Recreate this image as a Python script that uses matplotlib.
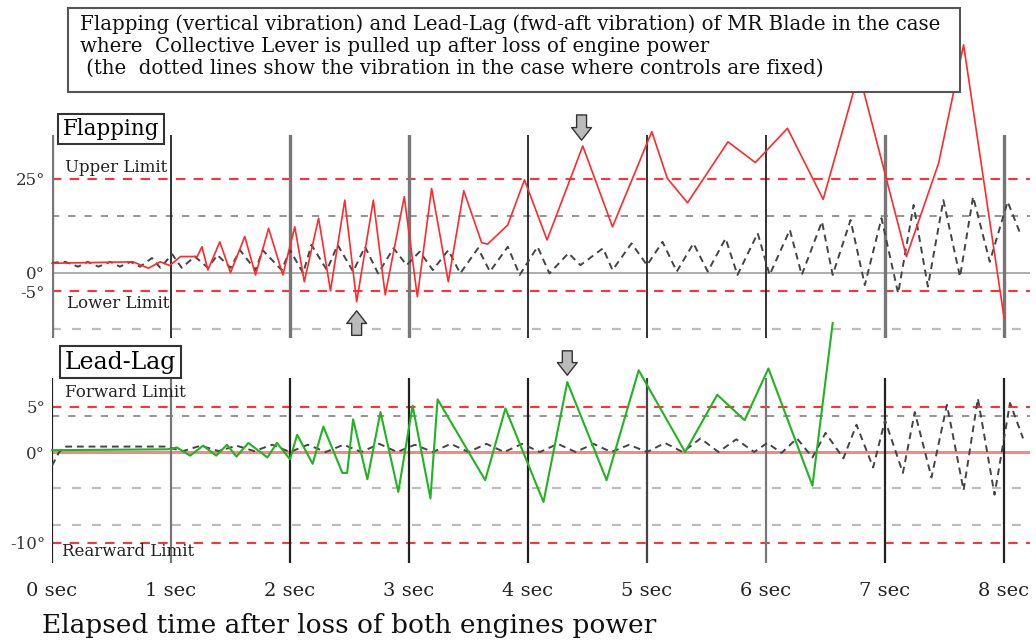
import matplotlib
matplotlib.use("Agg")
import matplotlib.pyplot as plt
from matplotlib.patches import Rectangle, FancyArrowPatch

plt.rcParams['font.family'] = ['DejaVu Serif']

# elapsed time (sec) and flapping angle (deg), collective pulled up
flap_t = [0.00, 0.68, 0.81, 0.91, 0.99, 1.08, 1.22, 1.26, 1.31, 1.41, 1.50, 1.62,
          1.71, 1.82, 1.94, 2.04, 2.12, 2.24, 2.34, 2.46, 2.56, 2.70, 2.80, 2.96,
          3.07, 3.19, 3.33, 3.46, 3.61, 3.66, 3.83, 3.97, 4.16, 4.46, 4.71, 5.04,
          5.17, 5.34, 5.68, 5.91, 6.18, 6.48, 6.78, 7.18, 7.45, 7.66, 8.00]
flap_deg = [2.5, 2.9, 1.2, 2.9, 1.9, 4.3, 4.3, 6.9, 0.7, 8.2, 0.0, 9.6,
            -0.6, 11.8, -0.6, 12.2, -2.4, 14.5, -4.8, 19.3, -7.7, 19.3, -5.9, 20.2,
            -6.4, 22.4, -2.4, 21.8, 8.0, 7.6, 12.7, 24.7, 8.7, 33.7, 12.2, 37.5,
            25.1, 18.6, 34.8, 29.3, 38.4, 19.5, 53.2, 4.3, 29.1, 60.6, -12.0]

# flapping with controls fixed
flap_fix_t = [0.00, 0.11, 0.22, 0.30, 0.39, 0.49, 0.57, 0.66, 0.74, 0.84, 0.91, 1.01,
              1.09, 1.20, 1.31, 1.39, 1.50, 1.58, 1.71, 1.77, 1.93, 2.00, 2.11, 2.18,
              2.31, 2.40, 2.53, 2.63, 2.74, 2.87, 2.98, 3.09, 3.20, 3.33, 3.43, 3.58,
              3.68, 3.83, 3.93, 4.08, 4.18, 4.34, 4.44, 4.63, 4.71, 4.87, 5.00, 5.13,
              5.25, 5.39, 5.51, 5.66, 5.76, 5.93, 6.03, 6.20, 6.30, 6.47, 6.56, 6.71,
              6.83, 6.97, 7.11, 7.24, 7.36, 7.49, 7.63, 7.74, 7.88, 8.03, 8.13]
flap_fix_deg = [2.6, 2.9, 1.6, 2.9, 1.6, 2.9, 1.6, 2.9, 1.6, 3.9, 1.3, 4.9,
                1.3, 4.3, 1.3, 4.7, 1.3, 6.0, 0.7, 6.0, 0.7, 6.0, -0.1, 7.4,
                0.7, 7.4, 0.3, 6.9, -0.2, 6.5, 2.0, 5.6, 0.7, 6.0, -0.2, 6.5,
                0.3, 6.9, -0.6, 6.9, -0.2, 5.2, 2.0, 6.5, 0.7, 7.8, 2.0, 8.2,
                0.3, 7.8, 0.3, 9.1, -0.6, 10.5, -0.6, 11.4, -0.6, 13.6, -0.6, 14.0,
                -3.3, 14.5, -5.5, 18.0, -3.7, 19.3, -1.1, 20.2, 2.9, 18.9, 10.9]

# lead-lag angle (deg), collective pulled up
lag_t = [0.00, 0.97, 1.05, 1.16, 1.27, 1.38, 1.47, 1.55, 1.65, 1.81, 1.89, 2.00,
         2.06, 2.19, 2.28, 2.44, 2.48, 2.53, 2.65, 2.76, 2.91, 3.03, 3.18, 3.24,
         3.64, 3.81, 4.13, 4.33, 4.66, 4.93, 5.32, 5.59, 5.82, 6.02, 6.39, 6.56]
lag_deg = [0.2, 0.3, 0.5, -0.4, 0.7, -0.4, 0.8, -0.5, 1.0, -0.6, 1.0, -0.8,
           1.9, -1.3, 2.8, -2.3, -2.3, 3.6, -3.0, 4.4, -4.4, 5.1, -5.1, 5.8,
           -3.1, 4.8, -5.5, 7.7, -3.1, 9.0, 0.0, 6.3, 3.5, 9.2, -3.7, 14.2]

# lead-lag with controls fixed
lag_fix_t = [0.00, 0.06, 0.12, 0.95, 1.10, 1.25, 1.40, 1.55, 1.70, 1.85, 2.00, 2.15,
             2.30, 2.45, 2.60, 2.75, 2.90, 3.05, 3.20, 3.35, 3.50, 3.65, 3.80, 3.95,
             4.10, 4.25, 4.40, 4.55, 4.70, 4.85, 5.00, 5.15, 5.30, 5.45, 5.60, 5.75,
             5.90, 6.01, 6.13, 6.26, 6.39, 6.50, 6.65, 6.76, 6.90, 7.00, 7.15, 7.25,
             7.39, 7.52, 7.66, 7.78, 7.92, 8.05, 8.16]
lag_fix_deg = [-1.5, 0.0, 0.6, 0.6, 0.1, 0.7, 0.1, 0.7, 0.1, 0.8, 0.0, 0.8,
               0.0, 0.8, 0.0, 0.9, 0.0, 0.8, 0.0, 0.9, 0.0, 0.9, 0.0, 0.9,
               0.0, 0.9, 0.0, 0.9, 0.0, 0.8, 0.0, 1.0, 0.0, 1.5, 0.0, 1.4,
               0.0, 1.0, -0.1, 1.5, -0.6, 2.1, -0.7, 3.0, -1.7, 3.5, -2.3, 4.4,
               -2.8, 5.2, -4.2, 5.9, -4.7, 5.4, 1.5]

seconds = [0, 1, 2, 3, 4, 5, 6, 7, 8]
sec_labels = ["0 sec", "1 sec", "2 sec", "3 sec", "4 sec", "5 sec", "6 sec", "7 sec", "8 sec"]

flap_limits = [25, -5]
flap_grid = [15, -15]
lag_limits = [5, -10]
lag_grid = [4, -4, -8]

W, H = 1036, 641
fig = plt.figure(figsize=(W / 100, H / 100), dpi=100)


def px_axes(left, top, right, bottom):
    return fig.add_axes([left / W, 1 - bottom / H, (right - left) / W, (bottom - top) / H])


ax1 = px_axes(52, 135, 1030, 338)
ax2 = px_axes(52, 378, 1030, 563)
ax1.set_xlim(0, 8.218)
ax2.set_xlim(0, 8.218)
ax1.set_ylim(-17.37, 36.62)
ax2.set_ylim(-12.22, 8.15)

for ax in (ax1, ax2):
    for s in ax.spines.values():
        s.set_visible(False)
    ax.tick_params(length=0, labelsize=12, colors='#333333', pad=5)
    ax.patch.set_alpha(0)

red_dash = dict(color='#ff3333', lw=1.5, linestyle=(0, (4.5, 4)))
lim_font = dict(fontsize=12, va='center', ha='left', color='#222222')

# flapping panel
ax1.axhline(0, color='#a0a0a0', lw=1.2)
ax1.axhline(flap_grid[0], color='#8c8c8c', lw=1.3, linestyle=(0, (4, 5)))
ax1.axhline(flap_grid[1], color='#bdbdbd', lw=1.6, linestyle=(0, (4, 5)))
for v in flap_limits:
    ax1.axhline(v, **red_dash)
flap_vcol = ['#777777', '#222222', '#777777', '#777777', '#222222', '#222222', '#222222', '#777777', '#777777']
flap_vlw = [2.4, 1.3, 2.4, 2.4, 1.3, 1.3, 1.3, 2.4, 2.4]
for s, c, w in zip(seconds, flap_vcol, flap_vlw):
    ax1.axvline(s, color=c, lw=w)
ax1.plot(flap_fix_t, flap_fix_deg, color='#444444', lw=1.4, linestyle=(0, (3.5, 2.5)))
ax1.plot(flap_t, flap_deg, color='#ff2a2a', lw=1.2, clip_on=False, zorder=5)
ax1.set_yticks([25, 0, -5])
ax1.set_yticklabels(["25°", "0°", "-5°"])
ax1.set_xticks([])

ax1.text(0.11, 28.1, "Upper Limit", **lim_font)
ax1.text(0.13, -8.3, "Lower Limit", **lim_font)
ax1.text(0.09, 38.2, "Flapping", fontsize=15.5, va='center', ha='left',
         bbox=dict(boxstyle='square,pad=0.2', fc='white', ec='#333333', lw=1.5), zorder=6)

# lead-lag panel
ax2.axhline(0, color='#f06a6a', lw=2.2, alpha=0.8)
ax2.axhline(lag_grid[0], color='#8c8c8c', lw=1.3, linestyle=(0, (4, 5)))
for v in lag_grid[1:]:
    ax2.axhline(v, color='#bdbdbd', lw=1.6, linestyle=(0, (4, 5)))
for v in lag_limits:
    ax2.axhline(v, **red_dash)
lag_vcol = ['#222222', '#777777', '#222222', '#222222', '#222222', '#444444', '#777777', '#222222', '#222222']
for s, c in zip(seconds, lag_vcol):
    ax2.axvline(s, color=c, lw=1.6)
ax2.plot(lag_fix_t, lag_fix_deg, color='#444444', lw=1.4, linestyle=(0, (3.5, 2.5)))
ax2.plot(lag_t, lag_deg, color='#22b322', lw=1.5, clip_on=False, zorder=5)
ax2.set_yticks([5, 0, -10])
ax2.set_yticklabels(["5°", "0°", "-10°"])
ax2.set_xticks(seconds)
ax2.set_xticklabels(sec_labels, fontsize=14, color='#222222')
ax2.tick_params(axis='x', pad=14)

ax2.text(0.11, 6.6, "Forward Limit", **lim_font)
ax2.text(0.08, -10.9, "Rearward Limit", **lim_font)
ax2.text(0.11, 9.9, "Lead-Lag", fontsize=17, va='center', ha='left',
         bbox=dict(boxstyle='square,pad=0.2', fc='white', ec='#333333', lw=1.5),
         clip_on=False, zorder=6)

# gray block arrows pointing at the marked peaks
arrow_kw = dict(arrowstyle='simple,head_width=1.1,head_length=0.7,tail_width=0.55',
                mutation_scale=13, fc='#bbbbbb', ec='#333333', lw=1.0, clip_on=False, zorder=7)
ax1.add_patch(FancyArrowPatch((4.45, 42.7), (4.45, 34.5), **arrow_kw))
ax1.add_patch(FancyArrowPatch((2.56, -17.4), (2.56, -9.4), **arrow_kw))
ax2.add_patch(FancyArrowPatch((4.33, 11.45), (4.33, 8.15), **arrow_kw))

# title box
fig.patches.append(Rectangle((68 / W, 1 - 92 / H), (960 - 68) / W, 84 / H, transform=fig.transFigure,
                             fc='white', ec='#555555', lw=1.5, zorder=0))
fig.text(80 / W, 1 - 14 / H,
         "Flapping (vertical vibration) and Lead-Lag (fwd-aft vibration) of MR Blade in the case\n"
         "where  Collective Lever is pulled up after loss of engine power\n"
         " (the  dotted lines show the vibration in the case where controls are fixed)",
         fontsize=14.2, va='top', ha='left', linespacing=1.22, color='#111111')

fig.text(42 / W, 1 - 625 / H, "Elapsed time after loss of both engines power",
         fontsize=19, va='center', ha='left', color='#111111')

fig.savefig("out.png", dpi=100)
